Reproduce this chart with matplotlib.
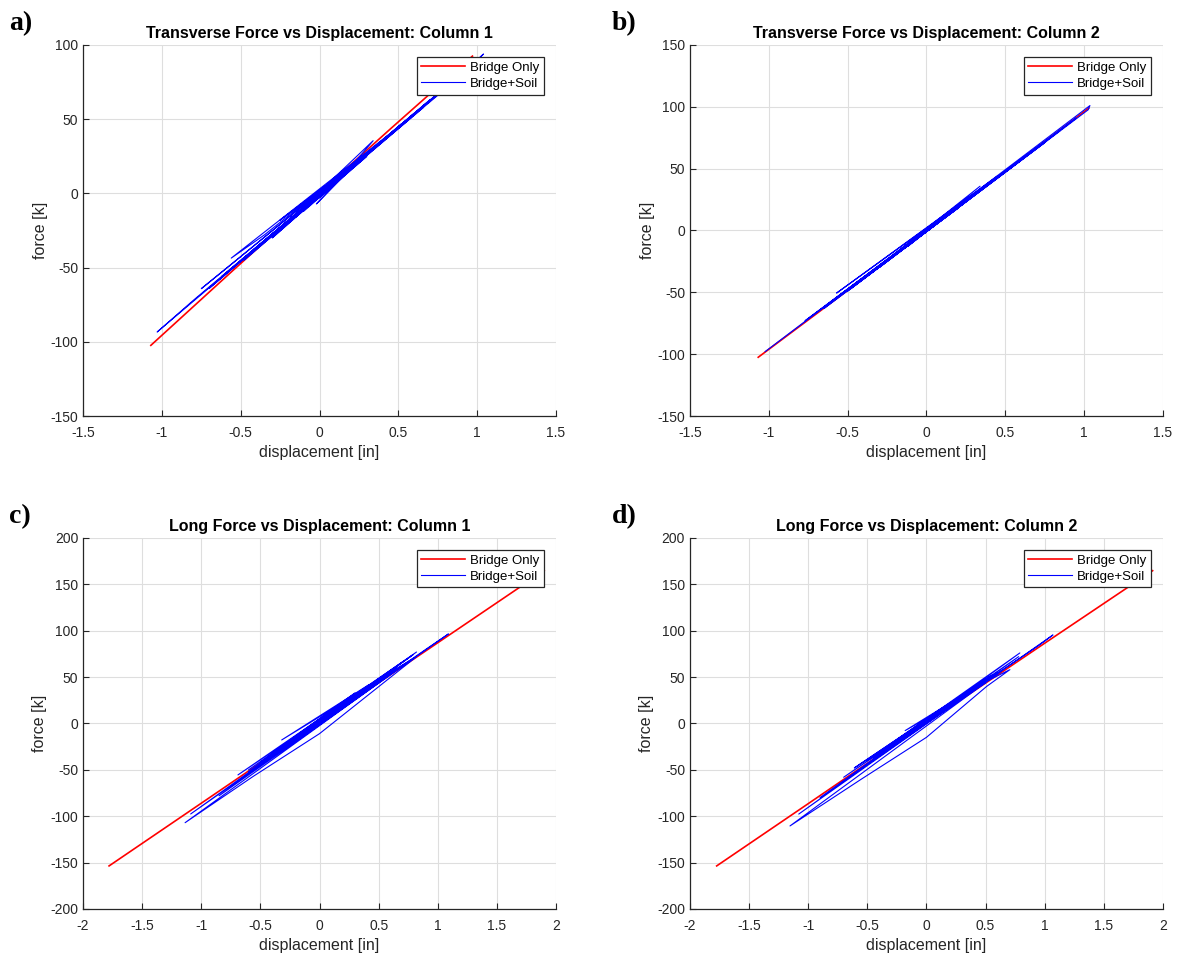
import matplotlib
matplotlib.use("Agg")
import matplotlib.pyplot as plt

# panel a) transverse, column 1
a_bridge_x = [-1.07, -0.55, 0.00, 0.45, 0.97]
a_bridge_y = [-102.4, -52.0, 0.5, 43.5, 92.5]
a_soil_x = [0.00, 0.12, -0.08, 0.22, -0.18, 0.34, 0.20, -0.25, 0.30, -0.42, 0.48, -0.56, -0.35,
            0.58, -0.48, 0.66, -0.75, -0.55, 0.72, -0.62, 0.82, -0.70, 0.78, -1.03, -0.80, 0.95,
            1.04, 0.85, -0.45, 0.70, -0.40, 0.60, -0.30, 0.52, -0.25, 0.45, -0.15, 0.30, -0.10,
            0.25, -0.02, 0.15, 0.00]
a_soil_y = [0.0, 10.0, -8.0, 19.0, -17.0, 35.5, 18.0, -18.0, 26.0, -38.0, 43.0, -43.6, -28.0,
            51.0, -45.0, 58.0, -64.2, -47.0, 64.0, -56.0, 73.0, -64.0, 70.0, -93.4, -72.0, 85.0,
            93.9, 75.0, -41.0, 63.0, -37.0, 54.0, -30.0, 47.0, -24.0, 40.0, -16.0, 25.0, -12.0,
            22.0, -7.1, 12.0, -3.0]

# panel b) transverse, column 2
b_bridge_x = [-1.067, -0.50, 0.00, 0.50, 1.03]
b_bridge_y = [-102.5, -48.5, 0.0, 48.0, 99.0]
b_soil_x = [0.00, 0.15, -0.12, 0.30, -0.25, 0.34, -0.40, 0.45, -0.57, 0.60, -0.48, 0.72, -0.77,
            0.85, -0.65, 0.95, -1.024, 1.037, 1.026, -0.50, 0.75, -0.45, 0.60, -0.30, 0.40,
            -0.15, 0.20, 0.00]
b_soil_y = [0.0, 15.0, -13.0, 29.0, -25.0, 35.8, -39.0, 44.0, -50.6, 57.0, -47.0, 69.0, -73.0,
            81.0, -63.0, 91.0, -98.0, 101.0, 97.6, -49.0, 71.0, -44.0, 57.0, -30.0, 38.0,
            -15.0, 18.0, -1.0]

# panel c) long, column 1
c_bridge_x = [-1.78, -1.00, 0.00, 1.00, 1.90]
c_bridge_y = [-153.6, -86.0, 0.8, 87.0, 164.7]
c_soil_x = [0.00, 0.18, -0.12, 0.30, -0.25, 0.42, -0.32, 0.55, -0.45, 0.65, -0.50, 0.72, -0.69,
            0.60, -0.60, 0.82, -0.85, 1.09, 0.90, -0.60, 0.79, -1.09, 0.70, -1.137, -0.56, 0.00,
            0.82, 0.50, -0.50, 0.55, -0.40, 0.45, -0.30, 0.35, -0.20, 0.25, -0.10, 0.12, 0.00]
c_soil_y = [0.0, 20.0, -8.0, 33.0, -18.0, 42.0, -17.8, 50.0, -40.0, 60.0, -42.0, 68.0, -55.5,
            55.0, -50.0, 77.0, -78.0, 96.5, 80.0, -52.0, 74.0, -97.6, 62.0, -107.0, -57.0, -11.0,
            72.0, 48.0, -45.0, 50.0, -35.0, 42.0, -28.0, 33.0, -18.0, 24.0, -10.0, 10.0, 0.0]

# panel d) long, column 2
d_bridge_x = [-1.774, -1.00, 0.00, 1.00, 1.913]
d_bridge_y = [-153.6, -86.5, 0.5, 86.5, 164.7]
d_soil_x = [0.00, 0.15, -0.18, 0.30, -0.30, 0.45, -0.40, 0.55, -0.61, 0.60, -0.50, 0.79, -0.90,
            1.07, 0.95, -0.70, 0.78, -1.08, 0.65, -1.154, -0.55, 0.00, 0.51, 0.706, 0.50, -0.45,
            0.50, -0.30, 0.35, -0.20, 0.25, -0.10, 0.12, 0.00]
d_soil_y = [0.0, 16.0, -7.7, 30.0, -24.0, 42.0, -32.0, 52.0, -48.0, 55.0, -40.0, 76.0, -80.0,
            95.4, 84.0, -58.0, 72.0, -97.7, 58.0, -110.5, -60.0, -15.0, 40.0, 58.0, 45.0, -38.0,
            44.0, -24.0, 32.0, -16.0, 22.0, -8.0, 12.0, 0.0]

TXT = "#262626"
plt.rcParams["font.family"] = ["Liberation Sans", "DejaVu Sans"]


def draw(ax, bx, by, sx, sy, title, xlim, xt, ylim, yt):
    ax.plot(bx, by, color="#ff0000", lw=1.2, label="Bridge Only")
    ax.plot(sx, sy, color="#0000ff", lw=0.8, label="Bridge+Soil")
    ax.set_xlim(xlim)
    ax.set_ylim(ylim)
    ax.set_xticks(xt)
    ax.set_yticks(yt)
    ax.set_xticklabels([f"{v:g}" for v in xt])
    ax.set_yticklabels([f"{v:g}" for v in yt])
    ax.grid(True, color="#dedede", lw=0.8)
    ax.set_axisbelow(True)
    for s in ["top", "right"]:
        ax.spines[s].set_visible(False)
    for s in ["left", "bottom"]:
        ax.spines[s].set_color(TXT)
        ax.spines[s].set_linewidth(0.9)
    ax.tick_params(direction="in", length=4, width=0.8, colors=TXT, labelsize=10)
    ax.tick_params(axis="x", pad=7)
    ax.set_title(title, fontsize=11.5, fontweight="bold", color="black", pad=5)
    ax.set_xlabel("displacement [in]", fontsize=11.5, color=TXT, labelpad=4)
    ax.set_ylabel("force [k]", fontsize=11.5, color=TXT, labelpad=2)
    leg = ax.legend(loc="upper right", fontsize=9.5, fancybox=False, framealpha=1,
                    edgecolor="#262626", handlelength=3.3, borderaxespad=0.9,
                    borderpad=0.35, labelspacing=0.3, handletextpad=0.4)
    leg.get_frame().set_linewidth(0.9)


fig = plt.figure(figsize=(11.78, 9.57), dpi=100)
w, h = 0.4015, 0.3877
ax_a = fig.add_axes([0.0705, 0.5653, w, h])
ax_b = fig.add_axes([0.5857, 0.5653, w, h])
ax_c = fig.add_axes([0.0705, 0.0502, w, h])
ax_d = fig.add_axes([0.5857, 0.0502, w, h])

xt1 = [-1.5, -1, -0.5, 0, 0.5, 1, 1.5]
xt2 = [-2, -1.5, -1, -0.5, 0, 0.5, 1, 1.5, 2]
draw(ax_a, a_bridge_x, a_bridge_y, a_soil_x, a_soil_y,
     "Transverse Force vs Displacement: Column 1", (-1.5, 1.5), xt1,
     (-150, 100), list(range(-150, 101, 50)))
draw(ax_b, b_bridge_x, b_bridge_y, b_soil_x, b_soil_y,
     "Transverse Force vs Displacement: Column 2", (-1.5, 1.5), xt1,
     (-150, 150), list(range(-150, 151, 50)))
draw(ax_c, c_bridge_x, c_bridge_y, c_soil_x, c_soil_y,
     "Long Force vs Displacement: Column 1", (-2, 2), xt2,
     (-200, 200), list(range(-200, 201, 50)))
draw(ax_d, d_bridge_x, d_bridge_y, d_soil_x, d_soil_y,
     "Long Force vs Displacement: Column 2", (-2, 2), xt2,
     (-200, 200), list(range(-200, 201, 50)))

for lab, x, y in [("a)", 0.008, 0.988), ("b)", 0.519, 0.988),
                  ("c)", 0.008, 0.473), ("d)", 0.519, 0.473)]:
    fig.text(x, y, lab, fontsize=20, fontweight="bold", family="Liberation Serif",
             va="top", ha="left")

fig.savefig("out.png", dpi=100)
